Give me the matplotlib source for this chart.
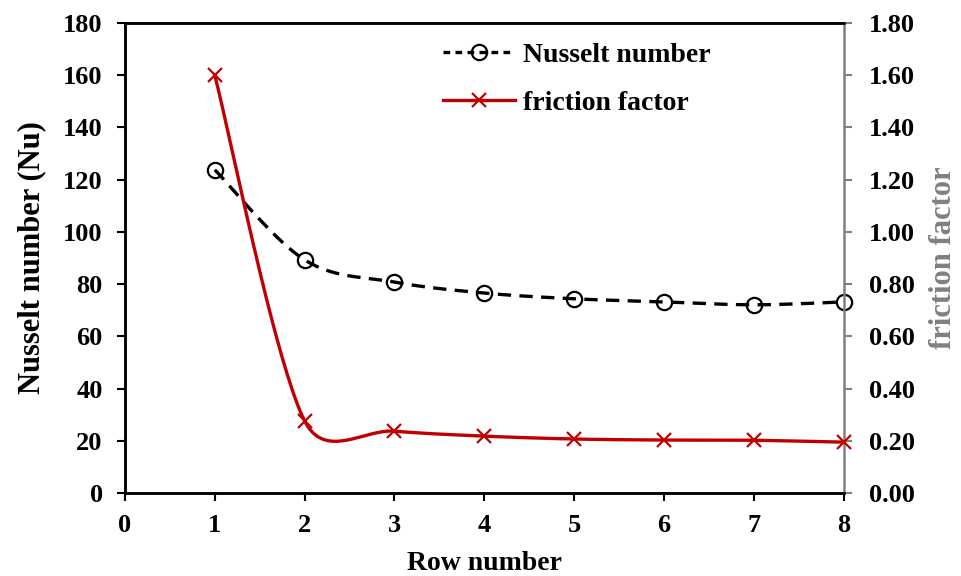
import numpy as np
import matplotlib.pyplot as plt
from matplotlib.lines import Line2D

plt.rcParams['font.family'] = ['Liberation Serif', 'DejaVu Serif']
plt.rcParams['font.weight'] = 'bold'

# Data
rows = [1, 2, 3, 4, 5, 6, 7, 8]
nusselt = [123.8, 89.3, 80.8, 76.6, 74.4, 73.2, 72.1, 73.2]
friction = [1.60, 0.276, 0.237, 0.218, 0.207, 0.203, 0.202, 0.195]


def smooth(ax, x, y, n=40):
    # Excel-like smoothed line: Bezier segments in screen space,
    # tangent arms = neighbour difference / 6, capped at half the segment
    pts = ax.transData.transform(np.column_stack([x, y]))
    p = np.vstack([pts[0], pts, pts[-1]])
    t = np.linspace(0, 1, n)[:, None]
    out = []
    for i in range(1, len(p) - 2):
        p0, p3 = p[i], p[i + 1]
        seg = np.linalg.norm(p3 - p0)
        a1 = (p[i + 1] - p[i - 1]) / 6
        a2 = (p[i + 2] - p[i]) / 6
        for a in (a1, a2):
            L = np.linalg.norm(a)
            if L > 0.5 * seg:
                a *= 0.5 * seg / L
        c1, c2 = p0 + a1, p3 - a2
        b = (1 - t) ** 3 * p0 + 3 * (1 - t) ** 2 * t * c1 \
            + 3 * (1 - t) * t ** 2 * c2 + t ** 3 * p3
        out.append(b)
    out = ax.transData.inverted().transform(np.vstack(out))
    return out[:, 0], out[:, 1]


red = '#C00000'
gray = '#808080'
dash = (0, (4, 2.5))

fig = plt.figure(figsize=(9.61, 5.76), dpi=100)
ax1 = fig.add_axes([0.130, 0.144, 0.748, 0.816])
ax2 = ax1.twinx()

ax1.set_xlim(0, 8)
ax1.set_ylim(0, 180)
ax1.set_yticks(np.arange(0, 181, 20))
ax1.set_xticks(range(0, 9))
ax2.set_xlim(0, 8)
ax2.set_ylim(0, 1.8)
ax2.set_yticks(np.arange(0, 1.81, 0.2))
ax2.set_yticklabels([f'{v:.2f}' for v in np.arange(0, 1.81, 0.2)])

sx, sy = smooth(ax1, rows, nusselt)
ax1.plot(sx, sy, color='black', lw=2.4, ls=dash, zorder=2)
ax1.plot(rows, nusselt, ls='none', marker='o', ms=11, mfc='none',
         mec='black', mew=1.6, zorder=3, clip_on=False)

fx, fy = smooth(ax2, rows, friction)
ax2.plot(fx, fy, color=red, lw=2.4, zorder=2)
ax2.plot(rows, friction, ls='none', marker='x', ms=10, mec=red, mew=1.6,
         zorder=3, clip_on=False)

ax1.set_xlim(0, 8)
ax1.set_ylim(0, 180)
ax2.set_ylim(0, 1.8)

ax1.set_xlabel('Row number', fontsize=20, fontweight='bold', labelpad=10)
ax1.set_ylabel('Nusselt number (Nu)', fontsize=22, fontweight='bold', labelpad=12)
ax2.set_ylabel('friction factor', fontsize=22, fontweight='bold', color=gray,
               labelpad=10)

ax1.tick_params(axis='y', labelsize=19, length=6, width=1.5, direction='out', pad=10)
ax1.tick_params(axis='x', labelsize=19, length=6, width=1.5, direction='out', pad=9)
ax2.tick_params(axis='y', labelsize=19, length=6, width=1.5, direction='out',
                color=gray, labelcolor='black', pad=12)

for s in ['left', 'bottom', 'top']:
    ax1.spines[s].set_linewidth(1.8)
    ax2.spines[s].set_linewidth(1.8)
ax2.spines['right'].set_color(gray)
ax2.spines['right'].set_linewidth(1.8)
ax1.spines['right'].set_visible(False)

handles = [
    Line2D([], [], color='black', lw=2.4, ls=(0, (2, 1.6)), marker='o', ms=11,
           mfc='none', mec='black', mew=1.6),
    Line2D([], [], color=red, lw=2.4, marker='x', ms=10, mec=red, mew=1.6),
]
ax2.legend(handles, ['Nusselt number', 'friction factor'], loc='upper left',
           bbox_to_anchor=(0.415, 1.0), frameon=False, fontsize=20,
           handlelength=2.6, handletextpad=0.3, labelspacing=0.8,
           borderaxespad=0.3)

plt.savefig('out.png', dpi=100)
